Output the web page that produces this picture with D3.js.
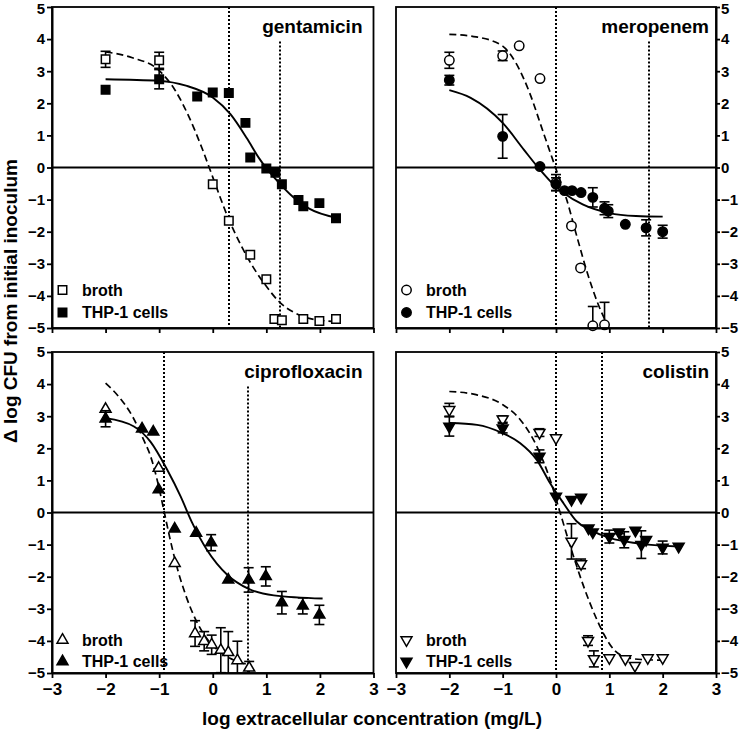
<!DOCTYPE html>
<html>
<head>
<meta charset="utf-8">
<script src="https://cdn.jsdelivr.net/npm/d3@7"></script>
<style>
  body { margin: 0; background: #fff; }
  text { font-family: "Liberation Sans", Arial, sans-serif; font-weight: bold; fill: #000; }
</style>
</head>
<body>
<svg id="chart" width="742" height="732"></svg>
<script>
// ---- data: [log conc, delta log CFU, error] ----
var xTicks = [-3, -2, -1, 0, 1, 2, 3];
var yTicks = [-5, -4, -3, -2, -1, 0, 1, 2, 3, 4, 5];
var seriesNames = ['broth', 'THP-1 cells'];

// gentamicin
var gentBroth = [[-2, 3.37, 0.25], [-1, 3.34, 0.25], [0, -0.52, 0], [0.3, -1.66, 0], [0.7, -2.72, 0],
  [1.0, -3.48, 0], [1.15, -4.72, 0], [1.29, -4.76, 0], [1.69, -4.72, 0], [1.99, -4.78, 0], [2.3, -4.72, 0]];
var gentCells = [[-2, 2.42, 0], [-1, 2.75, 0.3], [-0.29, 2.21, 0], [0, 2.34, 0], [0.3, 2.32, 0], [0.61, 1.39, 0],
  [0.7, 0.31, 0], [1.0, -0.03, 0], [1.17, -0.16, 0], [1.29, -0.52, 0], [1.6, -1.01, 0], [1.69, -1.21, 0],
  [1.99, -1.11, 0], [2.3, -1.58, 0]];
var gentBrothFit = [[-2, 3.6], [-1.5, 3.42], [-1, 3.02], [-0.7, 2.4], [-0.45, 1.6], [-0.2, 0.6], [0, -0.3],
  [0.3, -1.62], [0.52, -2.4], [0.76, -3.12], [1.0, -3.7], [1.25, -4.2], [1.5, -4.5], [1.8, -4.7], [2.3, -4.8]];
var gentCellsFit = [[-2, 2.75], [-1, 2.7], [-0.5, 2.55], [0, 2.18], [0.33, 1.66], [0.64, 0.9], [0.86, 0.3],
  [1.0, -0.02], [1.25, -0.5], [1.5, -0.92], [1.8, -1.28], [2.3, -1.56]];
var gentBreakpoints = [0.3, 1.25];

// meropenem
var meroBroth = [[-2, 3.34, 0.25], [-1, 3.48, 0.15], [-0.69, 3.79, 0], [-0.3, 2.77, 0], [0, -0.47, 0.25],
  [0.29, -1.82, 0], [0.46, -3.13, 0], [0.69, -4.93, 0.6], [0.91, -4.9, 0.7]];
var meroCells = [[-2, 2.72, 0.15], [-1, 0.97, 0.68], [-0.3, 0.03, 0], [0, -0.52, 0.2], [0.16, -0.72, 0],
  [0.3, -0.72, 0], [0.47, -0.78, 0], [0.69, -0.93, 0.3], [0.91, -1.27, 0.2], [0.98, -1.36, 0.2],
  [1.3, -1.77, 0], [1.69, -1.88, 0.25], [2.0, -2.0, 0.2]];
var meroBrothFit = [[-2, 4.15], [-1.5, 4.07], [-1, 3.78], [-0.75, 3.25], [-0.5, 2.35], [-0.25, 1.15], [0, -0.05],
  [0.2, -1.0], [0.4, -2.2], [0.6, -3.35], [0.8, -4.3], [0.98, -4.95]];
var meroCellsFit = [[-2, 2.41], [-1.6, 2.17], [-1, 1.39], [-0.6, 0.55], [-0.35, 0.03], [-0.1, -0.44],
  [0.15, -0.8], [0.5, -1.15], [1.0, -1.42], [1.5, -1.51], [2.0, -1.53]];
var meroBreakpoints = [0, 1.75];

// ciprofloxacin
var ciproBroth = [[-2, 3.22, 0], [-1.01, 1.38, 0], [-0.71, -1.58, 0], [-0.33, -3.77, 0.4], [-0.16, -4.01, 0.3],
  [-0.02, -4.12, 0.3], [0.15, -4.29, 0.7], [0.29, -4.36, 0.65], [0.46, -4.61, 0.6], [0.68, -4.84, 0.2]];
var ciproCells = [[-2, 2.92, 0.25], [-1.32, 2.61, 0], [-1.11, 2.51, 0], [-1.01, 0.71, 0], [-0.71, -0.51, 0],
  [-0.31, -0.64, 0], [-0.03, -0.94, 0.25], [0.29, -2.1, 0], [0.67, -2.1, 0.38], [0.99, -1.99, 0.3],
  [1.29, -2.81, 0.35], [1.68, -2.91, 0.25], [1.99, -3.19, 0.3]];
var ciproBrothFit = [[-2, 4.03], [-1.75, 3.6], [-1.5, 3.0], [-1.3, 2.3], [-1.16, 1.75], [-1.0, 0.75], [-0.91, 0.05],
  [-0.8, -0.8], [-0.7, -1.5], [-0.51, -2.55], [-0.3, -3.4], [-0.1, -3.95], [0.1, -4.3], [0.4, -4.6], [0.7, -4.75]];
var ciproCellsFit = [[-2, 2.94], [-1.47, 2.68], [-1.16, 2.2], [-0.85, 1.33], [-0.6, 0.5], [-0.39, -0.3],
  [-0.11, -1.16], [0.27, -1.94], [0.67, -2.38], [1.14, -2.58], [2.05, -2.68]];
var ciproBreakpoints = [-0.91, 0.65];

// colistin
var colBroth = [[-2, 3.2, 0.2], [-1, 2.91, 0.1], [-0.31, 2.49, 0.12], [0, 2.32, 0], [0.29, -0.9, 0.55],
  [0.47, -1.6, 0.15], [0.6, -3.99, 0.15], [0.71, -4.56, 0.25], [1.0, -4.53, 0], [1.3, -4.56, 0],
  [1.48, -4.77, 0], [1.72, -4.53, 0], [2.0, -4.53, 0]];
var colCells = [[-2, 2.68, 0.3], [-1, 2.63, 0.15], [-0.31, 1.75, 0.2], [0, 0.5, 0], [0.29, 0.4, 0],
  [0.47, 0.47, 0], [0.61, -0.49, 0], [0.69, -0.61, 0], [1.0, -0.75, 0.2], [1.18, -0.61, 0.05],
  [1.28, -0.85, 0.25], [1.49, -0.56, 0], [1.6, -1.0, 0.43], [1.69, -0.85, 0], [2.0, -1.09, 0.2], [2.3, -1.06, 0]];
var colBrothFit = [[-2, 3.77], [-1.5, 3.67], [-1, 3.36], [-0.67, 2.89], [-0.36, 2.06], [-0.11, 1.02], [0.08, -0.02],
  [0.27, -1.06], [0.52, -2.31], [0.77, -3.35], [0.9, -3.8], [1.1, -4.3], [1.3, -4.5], [1.6, -4.58], [2.0, -4.6]];
var colCellsFit = [[-2, 2.79], [-1.48, 2.73], [-1, 2.47], [-0.67, 2.16], [-0.36, 1.64], [-0.11, 0.91],
  [0.14, 0.29], [0.39, -0.28], [0.64, -0.54], [1.02, -0.8], [1.52, -0.96], [2.3, -1.06]];
var colBreakpoints = [0, 0.87];

var panels = [
  {name: 'gentamicin', col: 0, row: 0, shape: d3.symbolSquare, size: 72, flip: false,
   broth: gentBroth, cells: gentCells, brothFit: gentBrothFit, cellsFit: gentCellsFit, lines: gentBreakpoints},
  {name: 'meropenem', col: 1, row: 0, shape: d3.symbolCircle, size: 70, flip: false,
   broth: meroBroth, cells: meroCells, brothFit: meroBrothFit, cellsFit: meroCellsFit, lines: meroBreakpoints},
  {name: 'ciprofloxacin', col: 0, row: 1, shape: d3.symbolTriangle, size: 52, flip: false,
   broth: ciproBroth, cells: ciproCells, brothFit: ciproBrothFit, cellsFit: ciproCellsFit, lines: ciproBreakpoints},
  {name: 'colistin', col: 1, row: 1, shape: d3.symbolTriangle, size: 52, flip: true,
   broth: colBroth, cells: colCells, brothFit: colBrothFit, cellsFit: colCellsFit, lines: colBreakpoints}
];

// ---- layout ----
var svg = d3.select('#chart');
var colRange = [[52, 373.5], [396, 716]];
var rowRange = [[328, 7], [673, 352]];

panels.forEach(function(p) {
  var x = d3.scaleLinear().domain([-3, 3]).range(colRange[p.col]);
  var y = d3.scaleLinear().domain([-5, 5]).range(rowRange[p.row]).clamp(true);
  var g = svg.append('g');

  // zero line
  g.append('line')
      .attr('x1', x(-3)).attr('x2', x(3))
      .attr('y1', y(0)).attr('y2', y(0))
      .attr('stroke', '#000').attr('stroke-width', 1.8);

  // drug name
  var title = g.append('text')
      .attr('x', x(3) - (p.col === 0 ? 11 : 7))
      .attr('y', y(5) + 25.5)
      .attr('text-anchor', 'end')
      .style('font-size', '19px')
      .text(p.name);
  var tb = title.node().getBBox();

  // breakpoint lines (stop under the title if they would cross it)
  p.lines.forEach(function(v) {
    var xp = Math.round(x(v));
    var top = (xp > tb.x - 3 && xp < tb.x + tb.width + 3) ? tb.y + tb.height + 5 : y(5);
    g.append('line')
        .attr('x1', xp).attr('x2', xp)
        .attr('y1', top).attr('y2', y(-5))
        .attr('stroke', '#000').attr('stroke-width', 2)
        .attr('stroke-dasharray', '2,2');
  });

  // fitted curves
  var line = d3.line()
      .x(function(d) { return x(d[0]); })
      .y(function(d) { return y(d[1]); })
      .curve(d3.curveMonotoneX);
  g.append('path').datum(p.brothFit)
      .attr('d', line).attr('fill', 'none')
      .attr('stroke', '#000').attr('stroke-width', 1.7)
      .attr('stroke-dasharray', '7,4');
  g.append('path').datum(p.cellsFit)
      .attr('d', line).attr('fill', 'none')
      .attr('stroke', '#000').attr('stroke-width', 1.9);

  var symbol = d3.symbol().type(p.shape).size(p.size);
  var rot = p.flip ? ' rotate(180)' : '';

  function drawSeries(data, fill) {
    var err = data.filter(function(d) { return d[2] > 0; });
    var eb = g.append('g').attr('stroke', '#000').attr('stroke-width', 1.6);
    eb.selectAll('line.v').data(err).enter().append('line')
        .attr('x1', function(d) { return x(d[0]); })
        .attr('x2', function(d) { return x(d[0]); })
        .attr('y1', function(d) { return y(d[1] - d[2]); })
        .attr('y2', function(d) { return y(d[1] + d[2]); });
    [1, -1].forEach(function(s) {
      var caps = err.filter(function(d) { return d[1] + s * d[2] > -5; });
      eb.selectAll('line.c' + s).data(caps).enter().append('line')
          .attr('x1', function(d) { return x(d[0]) - 5; })
          .attr('x2', function(d) { return x(d[0]) + 5; })
          .attr('y1', function(d) { return y(d[1] + s * d[2]); })
          .attr('y2', function(d) { return y(d[1] + s * d[2]); });
    });
    g.selectAll(null).data(data).enter().append('path')
        .attr('d', symbol)
        .attr('transform', function(d) {
          return 'translate(' + x(d[0]) + ',' + y(d[1]) + ')' + rot;
        })
        .attr('fill', fill)
        .attr('stroke', '#000').attr('stroke-width', 1.5);
  }
  drawSeries(p.broth, '#fff');
  drawSeries(p.cells, '#000');

  // legend
  var ly = p.row === 0 ? [y(-5) - 38, y(-5) - 15.5] : [y(-5) - 33, y(-5) - 11.5];
  seriesNames.forEach(function(n, i) {
    g.append('path')
        .attr('d', symbol)
        .attr('transform', 'translate(' + (x(-3) + 10.5) + ',' + ly[i] + ')' + rot)
        .attr('fill', i === 0 ? '#fff' : '#000')
        .attr('stroke', '#000').attr('stroke-width', 1.5);
    g.append('text')
        .attr('x', x(-3) + 30)
        .attr('y', ly[i])
        .attr('dy', '0.36em')
        .style('font-size', '16px')
        .text(n);
  });

  // frame
  g.append('rect')
      .attr('x', x(-3)).attr('y', y(5))
      .attr('width', x(3) - x(-3)).attr('height', y(-5) - y(5))
      .attr('fill', 'none').attr('stroke', '#000').attr('stroke-width', 1.8);

  // axes
  var yAxis = (p.col === 0 ? d3.axisLeft(y).tickSize(5).tickPadding(2)
                           : d3.axisRight(y).tickSize(4).tickPadding(1))
      .tickValues(yTicks).tickSizeOuter(0)
      .tickFormat(d3.format('d'));
  var ya = g.append('g')
      .attr('transform', 'translate(' + (p.col === 0 ? x(-3) : x(3)) + ',0)')
      .call(yAxis);
  ya.selectAll('text').style('font-size', '15px');
  if (p.row === 0) {
    ya.selectAll('.tick').filter(function(d) { return d === 5; })
        .select('text').attr('y', 2);
  }

  var xAxis = d3.axisBottom(x)
      .tickValues(xTicks).tickSize(5).tickSizeOuter(0).tickPadding(5)
      .tickFormat(p.row === 1 ? d3.format('d') : function() { return ''; });
  var xa = g.append('g')
      .attr('transform', 'translate(0,' + y(-5) + ')')
      .call(xAxis);
  xa.selectAll('text').style('font-size', '17px');

  [ya, xa].forEach(function(a) {
    a.select('.domain').attr('stroke-width', 2);
    a.selectAll('.tick line').attr('stroke-width', 1.8);
    a.selectAll('text')
        .style('font-family', '"Liberation Sans", Arial, sans-serif')
        .style('font-weight', 'bold');
  });
});

// axis titles
svg.append('text')
    .attr('transform', 'translate(17,301) rotate(-90)')
    .attr('text-anchor', 'middle')
    .style('font-size', '19px')
    .text('\u0394 log CFU from initial inoculum');

svg.append('text')
    .attr('x', 372)
    .attr('y', 725)
    .attr('text-anchor', 'middle')
    .style('font-size', '19px')
    .text('log extracellular concentration (mg/L)');
</script>
</body>
</html>
